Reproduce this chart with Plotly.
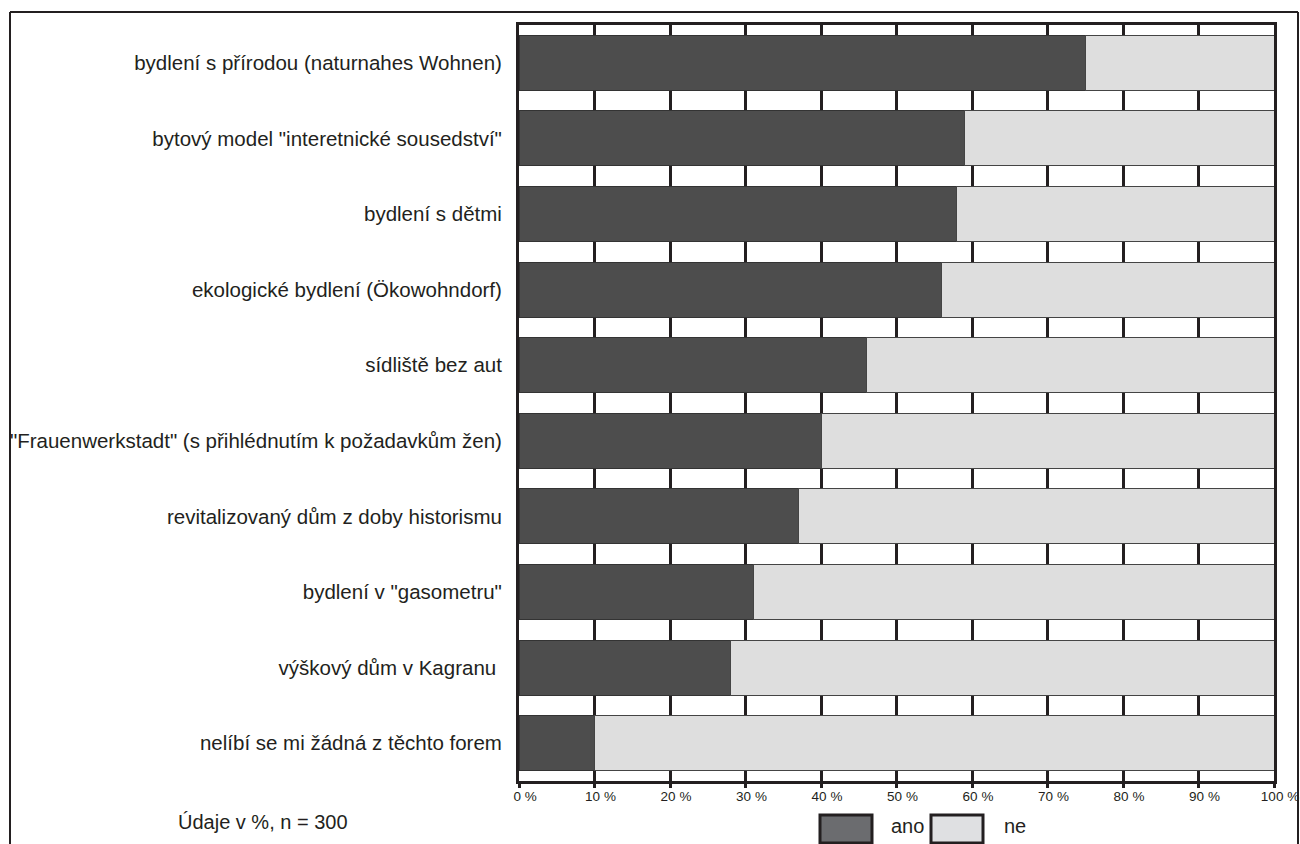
import plotly.graph_objects as go

categories = [
    "bydlení s přírodou (naturnahes Wohnen)",
    "bytový model \"interetnické sousedství\"",
    "bydlení s dětmi",
    "ekologické bydlení (Ökowohndorf)",
    "sídliště bez aut",
    "\"Frauenwerkstadt\" (s přihlédnutím k požadavkům žen)",
    "revitalizovaný dům z doby historismu",
    "bydlení v \"gasometru\"",
    "výškový dům v Kagranu ",
    "nelíbí se mi žádná z těchto forem",
]
ano = [75, 59, 58, 56, 46, 40, 37, 31, 28, 10]
ne = [25, 41, 42, 44, 54, 60, 63, 69, 72, 90]
tick_vals = [0, 10, 20, 30, 40, 50, 60, 70, 80, 90, 100]
tick_text = ["0 %", "10 %", "20 %", "30 %", "40 %", "50 %", "60 %", "70 %", "80 %", "90 %", "100 %"]

INK = "#231f20"
FONT = "Liberation Sans, Arial, Helvetica, sans-serif"

fig = go.Figure()
fig.add_trace(go.Bar(
    y=categories, x=ano, orientation="h", name="ano",
    marker=dict(color="#4d4d4d", line=dict(color="#333333", width=1)),
))
fig.add_trace(go.Bar(
    y=categories, x=ne, orientation="h", name="ne",
    marker=dict(color="#dedede", line=dict(color="#444444", width=1)),
))

L, R, T, B = 519, 26, 25, 63
W, H = 1300, 844
pw, ph = W - L - R, H - T - B


def px_x(x):
    return (x - L) / pw


def px_y(y):
    return (H - B - y) / ph


shapes = []
# outer frame (top, left, right)
shapes.append(dict(type="line", xref="paper", yref="paper", x0=px_x(10), x1=px_x(1298),
                   y0=px_y(12), y1=px_y(12), line=dict(color=INK, width=2)))
shapes.append(dict(type="line", xref="paper", yref="paper", x0=px_x(10), x1=px_x(10),
                   y0=px_y(12), y1=px_y(850), line=dict(color=INK, width=2)))
shapes.append(dict(type="line", xref="paper", yref="paper", x0=px_x(1298), x1=px_x(1298),
                   y0=px_y(12), y1=px_y(850), line=dict(color=INK, width=2)))
# legend boxes
shapes.append(dict(type="rect", xref="paper", yref="paper", x0=px_x(820), x1=px_x(872),
                   y0=px_y(843), y1=px_y(815), fillcolor="#6b6c6f", line=dict(color=INK, width=3)))
shapes.append(dict(type="rect", xref="paper", yref="paper", x0=px_x(931), x1=px_x(983),
                   y0=px_y(843), y1=px_y(815), fillcolor="#dfe0e2", line=dict(color=INK, width=3)))

annotations = [
    dict(text="Údaje v %, n = 300", xref="paper", yref="paper", x=px_x(176), y=px_y(822),
         xanchor="left", yanchor="middle", showarrow=False, font=dict(size=20, color=INK, family=FONT)),
    dict(text="ano", xref="paper", yref="paper", x=px_x(889), y=px_y(826),
         xanchor="left", yanchor="middle", showarrow=False, font=dict(size=20, color=INK, family=FONT)),
    dict(text="ne", xref="paper", yref="paper", x=px_x(1002), y=px_y(826),
         xanchor="left", yanchor="middle", showarrow=False, font=dict(size=20, color=INK, family=FONT)),
]

fig.update_layout(
    width=W, height=H, autosize=False,
    barmode="stack", bargap=0.27,
    showlegend=False,
    plot_bgcolor="white", paper_bgcolor="white",
    margin=dict(l=L, r=R, t=T, b=B, pad=0, autoexpand=False),
    font=dict(family=FONT, color=INK),
    shapes=shapes, annotations=annotations,
    xaxis=dict(
        range=[0, 100], tickvals=tick_vals, ticktext=tick_text,
        showgrid=True, gridcolor=INK, gridwidth=2.5,
        showline=True, linecolor=INK, linewidth=2.5, mirror=True,
        ticks="outside", ticklen=4, tickwidth=2.5, tickcolor=INK,
        ticklabelshift=6, ticklabelstandoff=-3, ticklabeloverflow="allow",
        tickfont=dict(size=13.5, color=INK, family=FONT),
        zeroline=False, layer="below traces",
    ),
    yaxis=dict(
        autorange="reversed", type="category",
        showgrid=False, showline=True, linecolor=INK, linewidth=3, mirror=True,
        ticks="", ticklabelstandoff=10,
        tickfont=dict(size=20.5, color=INK, family=FONT),
    ),
)

fig.write_html(
    "out.html",
    config={"responsive": False, "displayModeBar": False},
    post_script="document.body.style.margin='0';document.body.style.overflow='hidden';",
)
